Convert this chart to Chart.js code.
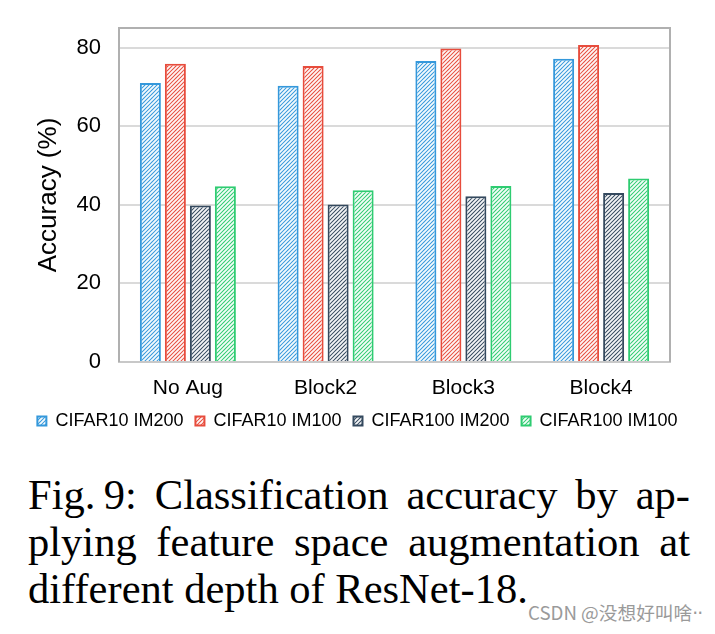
<!DOCTYPE html>
<html><head><meta charset="utf-8">
<script src="https://cdn.jsdelivr.net/npm/chart.js@4.4.1/dist/chart.umd.min.js"></script>
<style>
html,body{margin:0;padding:0;background:#fff;width:715px;height:634px;overflow:hidden;}
#wrap{position:absolute;left:0;top:0;width:715px;height:440px;}
.cap{position:absolute;left:28px;font-family:'Liberation Serif','Times New Roman',serif;font-size:37px;color:#000;white-space:nowrap;line-height:1;}
.just{text-align:justify;text-align-last:justify;}
#wm{position:absolute;left:528px;font-family:'Noto Sans CJK SC',sans-serif;font-size:17px;color:#9a9a9a;white-space:nowrap;line-height:1;}
#wm .d{font-family:'DejaVu Sans',sans-serif;letter-spacing:-1px;}
.bl{display:inline-block;width:0;height:0;vertical-align:baseline;}
</style></head>
<body>
<div id="wrap"><canvas id="c" width="715" height="440"></canvas></div>
<div class="cap just" id="l1">Fig.&thinsp;9: Classification accuracy by ap-<span class="bl"></span></div>
<div class="cap just" id="l2">plying feature space augmentation at<span class="bl"></span></div>
<div class="cap" id="l3">different depth of ResNet-18.<span class="bl"></span></div>
<div id="wm">CSDN @没想好叫啥<span class="d">··</span><span class="bl"></span></div>
<script>
// ---- data ----
const categories = ['No Aug', 'Block2', 'Block3', 'Block4'];
const cifar10Im200 = [71.0, 70.3, 76.6, 77.2];
const cifar10Im100 = [75.9, 75.3, 79.8, 80.7];
const cifar100Im200 = [39.8, 40.1, 42.2, 43.0];
const cifar100Im100 = [44.7, 43.7, 44.8, 46.7];
const seriesNames = ['CIFAR10 IM200', 'CIFAR10 IM100', 'CIFAR100 IM200', 'CIFAR100 IM100'];
const yTicks = [0, 20, 40, 60, 80];

const colors = ['#3498db', '#e74c3c', '#34495e', '#2ecc71'];

function stripePattern(color) {
  const s = 8;
  const cv = document.createElement('canvas');
  cv.width = s; cv.height = s;
  const c = cv.getContext('2d');
  c.fillStyle = color; c.fillRect(0, 0, s, s);
  c.strokeStyle = 'rgba(255,255,255,0.95)';
  c.lineWidth = 1.9;
  c.beginPath();
  for (let k = -2; k <= 4; k++) {
    const o = k * 4;
    c.moveTo(o - 4, s + 4); c.lineTo(o + s + 4, -4);
  }
  c.stroke();
  return c.createPattern(cv, 'repeat');
}

const seriesValues = [cifar10Im200, cifar10Im100, cifar100Im200, cifar100Im100];
const ctx = document.getElementById('c').getContext('2d');
const datasets = seriesValues.map((vals, i) => ({
  label: seriesNames[i],
  data: vals,
  backgroundColor: stripePattern(colors[i]),
  borderColor: colors[i],
  borderWidth: 2,
  categoryPercentage: 0.726,
  barPercentage: 0.84
}));

const framePlugin = {
  id: 'frame',
  beforeDatasetsDraw(chart) {
    const { ctx, chartArea: { left, top, right, bottom } } = chart;
    ctx.save();
    ctx.strokeStyle = '#b0b0b0';
    ctx.lineWidth = 2;
    ctx.beginPath();
    ctx.moveTo(left, bottom); ctx.lineTo(left, top); ctx.lineTo(right, top); ctx.lineTo(right, bottom);
    ctx.stroke();
    ctx.restore();
  }
};

Chart.defaults.font.family = "'Liberation Sans', Arial, sans-serif";
Chart.defaults.color = '#000';

new Chart(ctx, {
  type: 'bar',
  data: { labels: categories, datasets },
  options: {
    responsive: false,
    animation: false,
    devicePixelRatio: 1,
    layout: { padding: { top: 28, right: 0, left: 0, bottom: 0 } },
    plugins: {
      legend: {
        position: 'bottom',
        labels: { boxWidth: 9, boxHeight: 9, font: { size: 18 }, padding: 12, color: '#000' }
      },
      tooltip: { enabled: false }
    },
    scales: {
      x: {
        grid: { display: false, drawTicks: false },
        border: { color: '#c8c8c8', width: 2 },
        ticks: { font: { size: 21 }, padding: 14, color: '#000' },
        afterFit(scale) { scale.height = 38; scale.paddingLeft = 0; scale.paddingRight = 0; }
      },
      y: {
        min: 0, max: 85,
        grid: { color: '#dadada', lineWidth: 2, drawTicks: false },
        border: { display: false },
        ticks: { stepSize: 20, font: { size: 22 }, padding: 18, color: '#000' },
        afterBuildTicks(scale) { scale.ticks = yTicks.map(v => ({ value: v })); },
        title: { display: true, text: 'Accuracy (%)', font: { size: 26 }, color: '#000', padding: { top: 33, bottom: 0 } },
        afterFit(scale) { scale.width = 119; scale.paddingTop = 0; scale.paddingBottom = 0; }
      },
      yRight: {
        position: 'right',
        min: 0, max: 85,
        grid: { display: false, drawTicks: false },
        border: { display: false },
        ticks: { display: false },
        afterFit(scale) { scale.width = 45; scale.paddingTop = 0; scale.paddingBottom = 0; }
      }
    }
  },
  plugins: [framePlugin]
});

// ---- caption layout ----
function placeBaseline(el, baseline) {
  el.style.top = '0px';
  const b = el.querySelector('.bl').getBoundingClientRect().top;
  el.style.top = (baseline - b) + 'px';
}
const l1 = document.getElementById('l1'), l2 = document.getElementById('l2'), l3 = document.getElementById('l3');
const w3 = l3.getBoundingClientRect().width;
const fs = 37 * 500 / w3;
[l1, l2, l3].forEach(e => e.style.fontSize = fs + 'px');
l1.style.width = '662px'; l2.style.width = '662px';
placeBaseline(l1, 509);
placeBaseline(l2, 556);
placeBaseline(l3, 603);
const wm = document.getElementById('wm');
const ww = wm.getBoundingClientRect().width;
wm.style.fontSize = (17 * 174 / ww) + 'px';
placeBaseline(wm, 620);
</script>
</body></html>
